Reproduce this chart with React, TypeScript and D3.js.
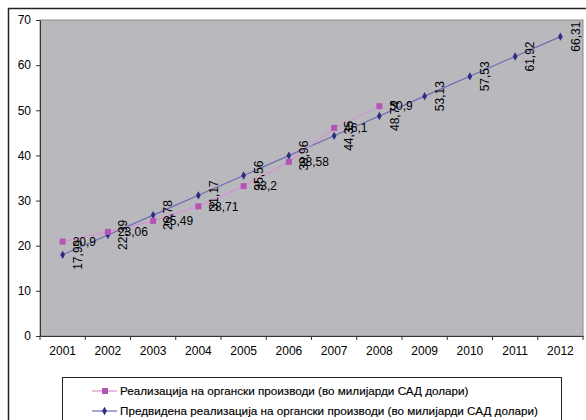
import { useEffect, useRef } from 'react';
import * as d3 from 'd3';

const years = ['2001', '2002', '2003', '2004', '2005', '2006', '2007', '2008', '2009', '2010', '2011', '2012'];
const actual = [20.9, 23.06, 25.49, 28.71, 33.2, 38.58, 46.1, 50.9];
const forecast = [17.99, 22.39, 26.78, 31.17, 35.56, 39.96, 44.35, 48.74, 53.13, 57.53, 61.92, 66.31];
const yTicks = [0, 10, 20, 30, 40, 50, 60, 70];
const legendLabels = [
  'Реализација на органски производи (во милијарди САД долари)',
  'Предвидена реализација на органски производи (во милијарди САД долари)',
];

const font = 'Liberation Sans, Arial, sans-serif';
const pinkLine = '#d492d4';
const pinkMark = '#b455b4';
const blueLine = '#6a6ab8';
const blueMark = '#2c2c86';

export default function App() {
  const ref = useRef<SVGSVGElement | null>(null);

  useEffect(() => {
    if (!ref.current) return;
    const svg = d3.select(ref.current);
    svg.selectAll('*').remove();

    const left = 40, right = 583, top = 20, bottom = 336;

    const x = d3.scaleBand().domain(years).range([left, right]);
    const cx = (i: number) => x(years[i])! + x.bandwidth() / 2;
    const y = d3.scaleLinear().domain([0, 70]).range([bottom, top]);

    svg.append('rect').attr('x', 0).attr('y', 0).attr('width', 586).attr('height', 420).attr('fill', '#fff');
    // outer frame
    svg.append('rect')
      .attr('x', 8.5).attr('y', 8.5).attr('width', 600).attr('height', 440)
      .attr('fill', 'none').attr('stroke', '#222').attr('stroke-width', 1.5);

    // plot area
    svg.append('rect')
      .attr('x', left).attr('y', top).attr('width', right - left).attr('height', bottom - top)
      .attr('fill', '#b9b9bd').attr('stroke', '#8a8a8a').attr('stroke-width', 1);

    // y axis
    const ya = svg.append('g').attr('transform', `translate(${left},0)`)
      .call(d3.axisLeft(y).tickValues(yTicks).tickSize(4).tickSizeOuter(0).tickFormat(d => String(d)));
    ya.select('.domain').attr('stroke', '#333');
    ya.selectAll('line').attr('stroke', '#333');
    ya.selectAll('text').attr('font-family', font).attr('font-size', 12).attr('fill', '#000').attr('x', -9);

    // x axis
    const xa = svg.append('g').attr('transform', `translate(0,${bottom})`)
      .call(d3.axisBottom(x).tickSize(0).tickSizeOuter(0));
    xa.select('.domain').attr('stroke', '#333');
    xa.selectAll('text').attr('font-family', font).attr('font-size', 12).attr('fill', '#000').attr('y', 10);
    xa.selectAll('.sep').data(d3.range(years.length + 1)).enter().append('line')
      .attr('x1', i => left + i * x.step()).attr('x2', i => left + i * x.step())
      .attr('y1', 0).attr('y2', 4).attr('stroke', '#333');

    const line = d3.line<number>().x((_, i) => cx(i)).y(d => y(d));

    svg.append('path').datum(forecast).attr('d', line).attr('fill', 'none').attr('stroke', blueLine).attr('stroke-width', 1.2);
    svg.append('path').datum(actual).attr('d', line).attr('fill', 'none').attr('stroke', pinkLine).attr('stroke-width', 1.2);

    const diamond = d3.symbol().type(d3.symbolDiamond).size(20);
    svg.selectAll('.fm').data(forecast).enter().append('path')
      .attr('d', diamond).attr('transform', (d, i) => `translate(${cx(i)},${y(d)})`).attr('fill', blueMark);

    svg.selectAll('.am').data(actual).enter().append('rect')
      .attr('x', (d, i) => cx(i) - 3).attr('y', d => y(d) - 3).attr('width', 6).attr('height', 6).attr('fill', pinkMark);

    const fmt = (v: number) => String(v).replace('.', ',');

    svg.selectAll('.al').data(actual).enter().append('text')
      .attr('x', (d, i) => cx(i) + 10).attr('y', d => y(d))
      .attr('dy', '0.35em').attr('font-family', font).attr('font-size', 12).attr('fill', '#000')
      .text(d => fmt(d));

    svg.selectAll('.fl').data(forecast).enter().append('text')
      .attr('transform', (d, i) => `translate(${cx(i) + 15},${y(d)}) rotate(-90)`)
      .attr('text-anchor', 'middle').attr('dy', '0.35em')
      .attr('font-family', font).attr('font-size', 12).attr('fill', '#000')
      .text(d => fmt(d));

    // legend
    svg.append('rect')
      .attr('x', 62.5).attr('y', 377.5).attr('width', 499).attr('height', 60)
      .attr('fill', '#fff').attr('stroke', '#222').attr('stroke-width', 1);
    const lg = svg.selectAll('.lg').data(legendLabels).enter().append('g')
      .attr('transform', (d, i) => `translate(92,${391 + i * 20})`);
    lg.append('line').attr('x1', 0).attr('x2', 25).attr('y1', 0).attr('y2', 0)
      .attr('stroke', (d, i) => (i === 0 ? pinkLine : blueLine)).attr('stroke-width', 1.2);
    lg.each(function (d, i) {
      const g = d3.select(this);
      if (i === 0) g.append('rect').attr('x', 10).attr('y', -3).attr('width', 6).attr('height', 6).attr('fill', pinkMark);
      else g.append('path').attr('d', diamond).attr('transform', 'translate(12.5,0)').attr('fill', blueMark);
    });
    lg.append('text').attr('x', 28).attr('dy', '0.35em')
      .attr('font-family', font).attr('font-size', 11.7).attr('fill', '#000')
      .attr('stroke', '#000').attr('stroke-width', 0.15)
      .text(d => d);
  }, []);

  return (
    <svg ref={ref} width={586} height={420} style={{ position: 'absolute', left: 0, top: 0 }}></svg>
  );
}
